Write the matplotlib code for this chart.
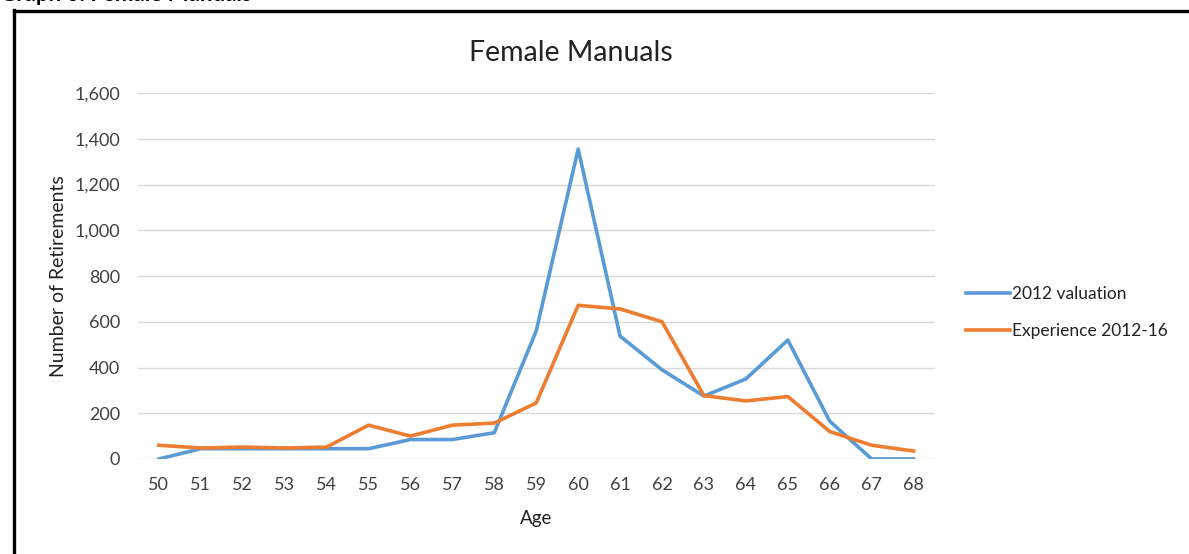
import matplotlib.pyplot as plt
from matplotlib.lines import Line2D
from matplotlib.ticker import FuncFormatter

plt.rcParams['font.family'] = ['Lato', 'DejaVu Sans']

ages = list(range(50, 69))
valuation_2012 = [0, 45, 45, 45, 45, 45, 85, 85, 115, 560, 1355,
                  537, 390, 275, 350, 520, 165, 0, 0]
experience_2012_16 = [60, 48, 52, 48, 52, 148, 100, 148, 157, 245, 672,
                      656, 600, 277, 254, 273, 120, 60, 35]
series_labels = ['2012 valuation', 'Experience 2012-16']
y_ticks = [0, 200, 400, 600, 800, 1000, 1200, 1400, 1600]

fig = plt.figure(figsize=(11.89, 5.54), dpi=100)
ax = fig.add_axes([0.116, 0.1715, 0.67, 0.6605])

ax.plot(ages, valuation_2012, color='#5B9BD5', lw=2.6,
        label=series_labels[0], solid_joinstyle='round')
ax.plot(ages, experience_2012_16, color='#ED7D31', lw=2.6,
        label=series_labels[1], solid_joinstyle='round')

ax.set_xlim(49.5, 68.5)
ax.set_ylim(0, 1600)
ax.set_xticks(ages)
ax.set_yticks(y_ticks)
ax.yaxis.set_major_formatter(FuncFormatter(lambda v, p: f'{int(v):,}'))
ax.tick_params(length=0, labelsize=13, colors='#404040')
ax.tick_params(axis='x', pad=13)
ax.tick_params(axis='y', pad=13)
ax.grid(axis='y', color='#d9d9d9', lw=1)
ax.set_axisbelow(True)
for s in ax.spines.values():
    s.set_visible(False)

# chart title is centred on the whole chart area, not the plot area
fig.text(0.480, 0.904, 'Female Manuals', fontsize=20.5, color='#222222',
         ha='center', va='center')
ax.set_xlabel('Age', fontsize=13.5, color='#222222', labelpad=12)
ax.set_ylabel('Number of Retirements', fontsize=14, color='#222222',
              labelpad=5)

ax.legend(loc='center left', bbox_to_anchor=(1.02, 0.40), frameon=False,
          fontsize=12.5, handlelength=2.5, handletextpad=0.15,
          labelspacing=1.2, labelcolor='#222222')

# frame of the surrounding document box
fig.add_artist(Line2D([0.0115, 1.0], [0.980, 0.980], color='black', lw=2.4,
                      transform=fig.transFigure))
fig.add_artist(Line2D([0.0115, 0.0115], [0.0, 0.982], color='black', lw=2.4,
                      transform=fig.transFigure))
# heading cut off at the top edge
fig.text(0.0, 0.999, 'Graph 6: Female Manuals', fontsize=16,
         fontweight='bold', va='baseline', ha='left')

fig.savefig('out.png', dpi=100)
